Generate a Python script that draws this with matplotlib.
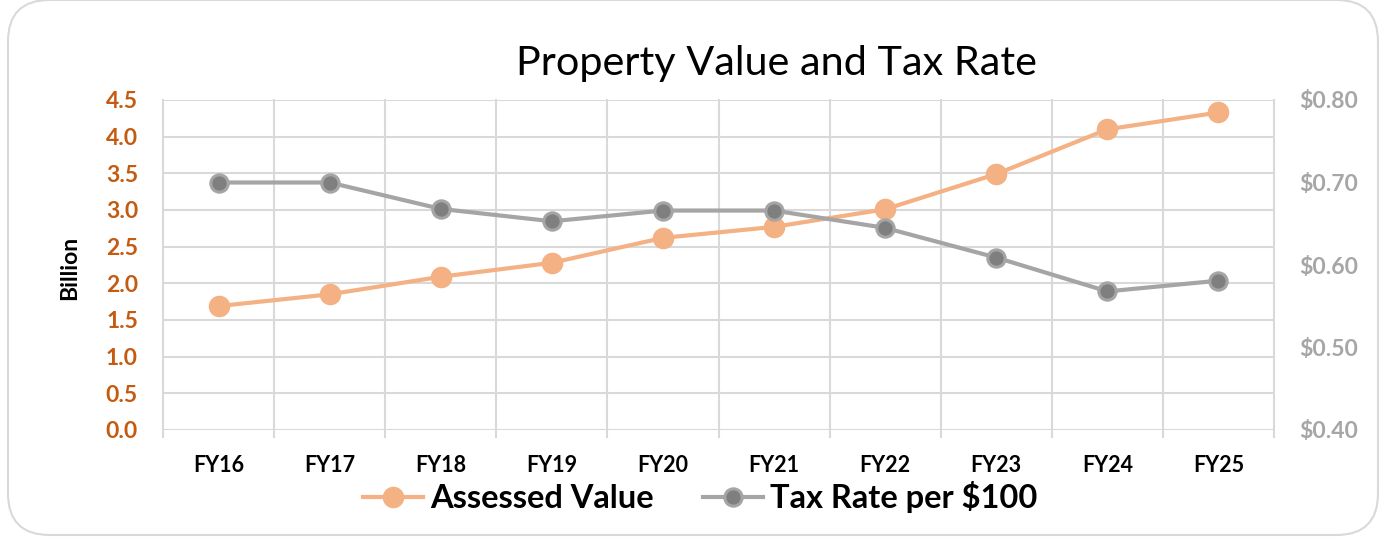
import matplotlib
matplotlib.use("Agg")
import matplotlib.pyplot as plt
from matplotlib.patches import FancyBboxPatch
from matplotlib.lines import Line2D

categories = ["FY16", "FY17", "FY18", "FY19", "FY20", "FY21", "FY22", "FY23", "FY24", "FY25"]
assessed_value = [1.69, 1.85, 2.09, 2.28, 2.62, 2.77, 3.01, 3.49, 4.10, 4.33]
tax_rate = [0.700, 0.700, 0.668, 0.653, 0.666, 0.666, 0.645, 0.609, 0.568, 0.581]
left_ticks = [0.0, 0.5, 1.0, 1.5, 2.0, 2.5, 3.0, 3.5, 4.0, 4.5]
right_ticks = [0.40, 0.50, 0.60, 0.70, 0.80]

FONT = ["Lato", "DejaVu Sans"]
plt.rcParams["font.family"] = FONT

W, H = 1386, 543
fig = plt.figure(figsize=(W / 100, H / 100), dpi=100)

# outer rounded border
border = FancyBboxPatch((8 / W, 8 / H), (W - 16) / W, (H - 8) / H,
                        boxstyle="round,pad=0,rounding_size=0.03",
                        transform=fig.transFigure, facecolor="white",
                        edgecolor="#D9D9D9", linewidth=1.5, mutation_aspect=W / H,
                        zorder=-10)
fig.patches.append(border)

ax = fig.add_axes([163 / W, (H - 430) / H, (1274 - 163) / W, (430 - 100) / H])
ax2 = ax.twinx()
ax.patch.set_visible(False)
ax2.patch.set_visible(False)

x = list(range(len(categories)))
grid_c = "#D9D9D9"

ax.set_xlim(-0.5, len(categories) - 0.5)
ax.set_ylim(0, 4.5)
ax2.set_ylim(0.40, 0.80)

# gridlines
for t in left_ticks:
    ax.axhline(t, color=grid_c, lw=1.5, zorder=0)
for b in range(len(categories) + 1):
    ax.plot([b - 0.5, b - 0.5], [-0.1, 4.5], color=grid_c, lw=1.5, zorder=0, clip_on=False)

for a in (ax, ax2):
    for s in a.spines.values():
        s.set_visible(False)

ax.plot(x, assessed_value, color="#F4B183", lw=3.0, marker="o", markersize=14.5,
        markerfacecolor="#F4B183", markeredgecolor="#F4B183", zorder=3)
ax2.plot(x, tax_rate, color="#A5A5A5", lw=3.0, marker="o", markersize=12.5,
         markerfacecolor="#7F7F7F", markeredgecolor="#A5A5A5", markeredgewidth=2.2, zorder=3)

ax.set_xticks(x)
ax.set_xticklabels(categories, fontsize=15.5, fontweight="bold", color="black")
ax.tick_params(axis="x", length=0, pad=18)
ax.set_yticks(left_ticks)
ax.set_yticklabels([f"{v:.1f}" for v in left_ticks], fontsize=16.5, fontweight="bold", color="#C55A11")
ax.tick_params(axis="y", length=0, pad=18)
ax2.set_yticks(right_ticks)
ax2.set_yticklabels([f"${v:.2f}" for v in right_ticks], fontsize=16.5, fontweight="bold", color="#A6A6A6")
ax2.tick_params(axis="y", length=0, pad=18)

fig.text(70 / W, 1 - 268 / H, "Billion", fontsize=16.5, fontweight="bold",
         rotation=90, ha="center", va="center", color="black")

fig.text(777 / W, 1 - 63 / H, "Property Value and Tax Rate", fontsize=29.8,
         ha="center", va="center", color="black")

handles = [
    Line2D([0], [0], color="#F4B183", lw=3.0, marker="o", markersize=14.5,
           markerfacecolor="#F4B183", markeredgecolor="#F4B183"),
    Line2D([0], [0], color="#A5A5A5", lw=3.0, marker="o", markersize=12.5,
           markerfacecolor="#7F7F7F", markeredgecolor="#A5A5A5", markeredgewidth=2.2),
]
fig.legend(handles, ["Assessed Value", "Tax Rate per $100"], loc="center",
           bbox_to_anchor=(700 / W, 1 - 497 / H), ncol=2, frameon=False,
           prop={"family": FONT, "weight": "bold", "size": 23.5},
           handlelength=1.85, handletextpad=0.2, columnspacing=1.5)

fig.savefig("out.png", dpi=100)
